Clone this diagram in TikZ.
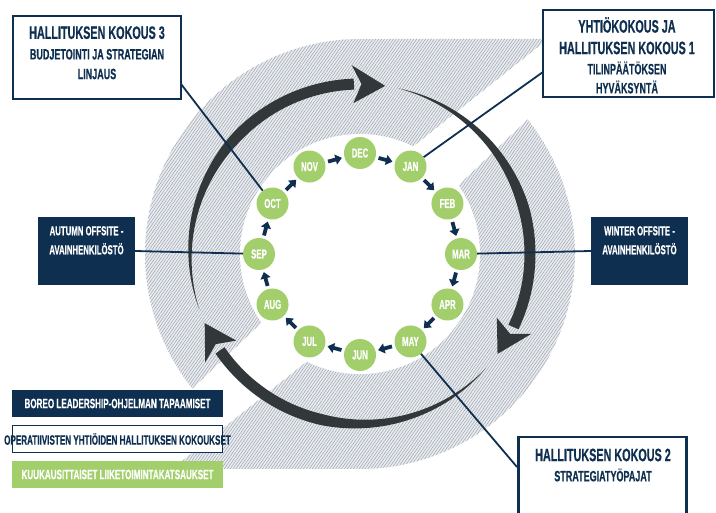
\documentclass[tikz,border=0pt]{standalone}
\usepackage{fontspec}
\newfontfamily\cf{Liberation Sans}[FakeStretch=0.6,FakeBold=0.5]
\usetikzlibrary{patterns.meta,arrows.meta,calc}
\definecolor{navy}{HTML}{0F2F50}
\definecolor{mgreen}{HTML}{A2CF6C}
\definecolor{darc}{HTML}{32373A}
\definecolor{hline}{HTML}{9FA8B4}
\definecolor{hbg}{HTML}{EAECEF}
\newcommand\taparrow[3]{%
 \fill[darc] plot[domain=0:1,samples=70,variable=\t] ({360+(170+5.5*min(1,1.7*\t))*cos(#1+(#2-#1)*\t)},{254-(170+5.5*min(1,1.7*\t))*sin(#1+(#2-#1)*\t)})
 -- plot[domain=1:0,samples=70,variable=\t] ({360+(170-5.5*min(1,1.7*\t))*cos(#1+(#2-#1)*\t)},{254-(170-5.5*min(1,1.7*\t))*sin(#1+(#2-#1)*\t)}) -- cycle;
 \fill[darc] ({360+189*cos(#2+0.5)},{254-189*sin(#2+0.5)}) -- ({360+170*cos(#3)},{254-170*sin(#3)}) -- ({360+151*cos(#2+0.5)},{254-151*sin(#2+0.5)}) -- ({360+170*cos(#2-2.5)},{254-170*sin(#2-2.5)}) -- cycle;
}
\begin{document}
\begin{tikzpicture}[x=1pt,y=-1pt,
 month/.style={circle,fill=mgreen,minimum size=32pt,inner sep=0pt,text=white,font=\cf\bfseries\fontsize{13}{13}\selectfont},
 marrow/.style={draw=navy,line width=3.8pt,-{Triangle[width=10pt,length=6.5pt]},shorten <=3pt,shorten >=2.5pt},
 wbox/.style={draw=navy,line width=2.5pt,fill=white,inner sep=0pt},
 nbox/.style={fill=navy,inner sep=0pt},
 link/.style={draw=navy,line width=1.8pt},
 bigt/.style={font=\cf\bfseries\fontsize{18}{18}\selectfont,text=navy,inner sep=0pt},
 smallt/.style={font=\cf\bfseries\fontsize{15}{15}\selectfont,text=navy,inner sep=0pt},
 sidet/.style={font=\cf\bfseries\fontsize{13}{19}\selectfont,text=white,inner sep=0pt,align=center},
 legt/.style={font=\cf\bfseries\fontsize{13.5}{13.5}\selectfont,inner sep=0pt},
 band/.style={preaction={fill=hbg},pattern={Lines[angle=55,distance=2.4pt,line width=0.55pt]},pattern color=hline}
]
\useasboundingbox (0,0) rectangle (716,513);
\fill[white] (0,0) rectangle (716,513);
% hatched bands
\path[band] (298,288) -- (193,388) -- plot[domain=218.7:90,samples=80,variable=\t] ({360+215*cos(\t)},{254-215*sin(\t)}) -- (548,39) -- (400,157) -- (370,230) -- cycle;
\path[band] (422,220) -- (527,120) -- plot[domain=38.7:-90,samples=80,variable=\t] ({360+215*cos(\t)},{254-215*sin(\t)}) -- (172,469) -- (320,351) -- (340,280) -- cycle;
\fill[white] (360,254) circle[radius=120];
% big cycle arrows
\taparrow{199}{92}{81.5}
\taparrow{77}{-25.5}{-36}
\taparrow{-42}{-145.5}{-156}
% months
\foreach \n/\m/\a in {dec/DEC/90,jan/JAN/60,feb/FEB/30,mar/MAR/0,apr/APR/-30,may/MAY/-60,jun/JUN/-90,jul/JUL/-120,aug/AUG/-150,sep/SEP/180,oct/OCT/150,nov/NOV/120}
  \node[month] (\n) at ({360+101*cos(\a)},{254-101*sin(\a)}) {\m};
\foreach \p/\q in {nov/dec,dec/jan,jan/feb,feb/mar,mar/apr,apr/may,may/jun,jun/jul,jul/aug,aug/sep,sep/oct,oct/nov}
  \draw[marrow] (\p) -- (\q);
% boxes
\node[wbox,minimum width=168pt,minimum height=83pt] (tl) at (97,57.5) {};
\node[bigt] (tl1) at (97,32.7) {HALLITUKSEN KOKOUS 3};
\node[smallt] (tl2) at (97,54.3) {BUDJETOINTI JA STRATEGIAN};
\node[smallt] (tl3) at (97,74) {LINJAUS};
\node[wbox,minimum width=171pt,minimum height=87pt] (tr) at (628.5,53.5) {};
\node[bigt] (tr1) at (627,25) {YHTIÖKOKOUS JA};
\node[bigt] (tr2) at (627,48) {HALLITUKSEN KOKOUS 1};
\node[smallt] (tr3) at (627,68) {TILINPÄÄTÖKSEN};
\node[smallt] (tr4) at (627,87) {HYVÄKSYNTÄ};
\node[wbox,minimum width=168pt,minimum height=90pt,anchor=north west] (br) at (517,436) {};
\node[bigt] (br1) at (603,455) {HALLITUKSEN KOKOUS 2};
\node[smallt] (br2) at (603,475) {STRATEGIATYÖPAJAT};
\node[nbox,minimum width=97pt,minimum height=68pt] (lb) at (86.5,251) {};
\node[sidet,anchor=north] (lbt) at (86.5,226) {AUTUMN OFFSITE -\\AVAINHENKILÖSTÖ};
\node[nbox,minimum width=97pt,minimum height=68pt] (rb) at (639.5,251) {};
\node[sidet,anchor=north] (rbt) at (639.5,226) {WINTER OFFSITE -\\AVAINHENKILÖSTÖ};
% connectors
\coordinate (tlc) at (181,84);
\coordinate (trc) at (543,72);
\coordinate (brc) at (517,467);
\draw[link] (tlc) -- (oct);
\draw[link] (trc) -- (jan);
\draw[link] (lb.east) -- (sep);
\draw[link] (mar) -- (rb.west);
\draw[link] (may) -- (brc);
% legend
\node[nbox,minimum width=211pt,minimum height=27pt] (lg1) at (117.5,403.5) {};
\node[legt,text=white] (lg1t) at (117.5,403.5) {BOREO LEADERSHIP-OHJELMAN TAPAAMISET};
\node[draw=navy,line width=1.5pt,fill=white,minimum width=210pt,minimum height=27pt,inner sep=0pt] (lg2) at (117.5,439) {};
\node[legt,text=navy] (lg2t) at (117.5,439) {OPERATIIVISTEN YHTIÖIDEN HALLITUKSEN KOKOUKSET};
\node[fill=mgreen,minimum width=211pt,minimum height=27pt,inner sep=0pt] (lg3) at (117.5,474.5) {};
\node[legt,text=white] (lg3t) at (117.5,474.5) {KUUKAUSITTAISET LIIKETOIMINTAKATSAUKSET};
\end{tikzpicture}
\end{document}
